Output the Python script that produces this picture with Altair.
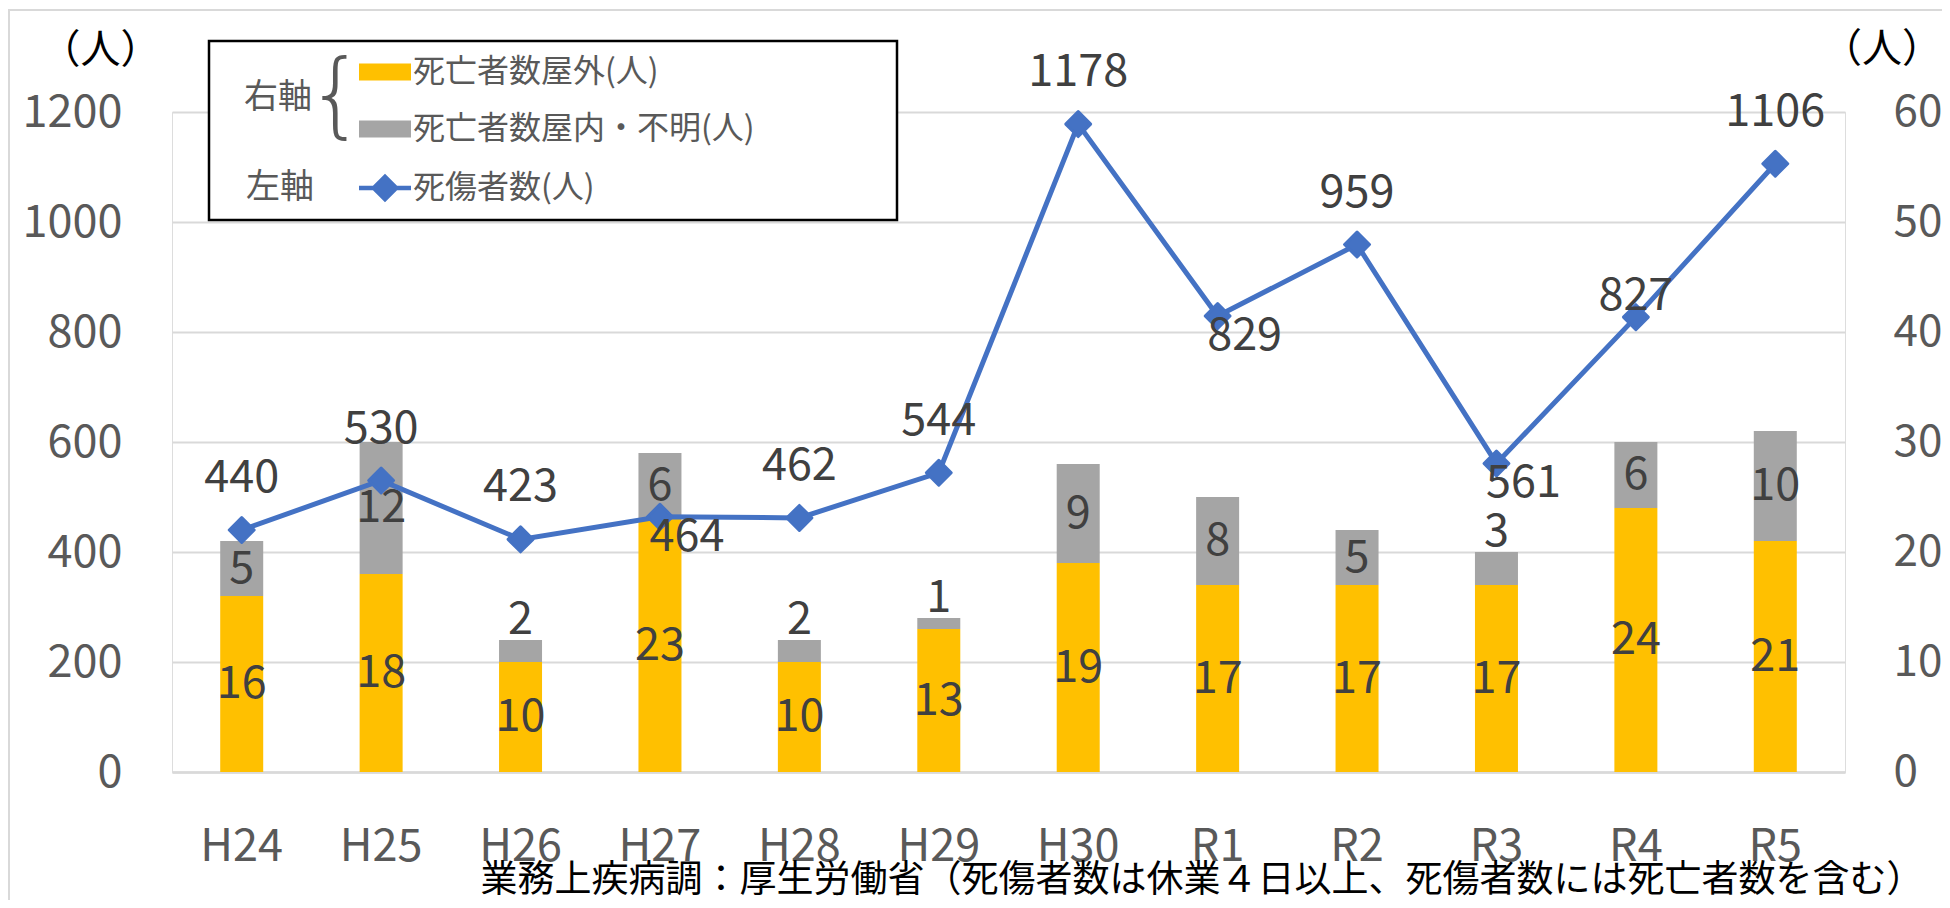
import altair as alt
import pandas as pd

# ---- data ----
years = ["H24", "H25", "H26", "H27", "H28", "H29", "H30", "R1", "R2", "R3", "R4", "R5"]
deaths_outdoor = [16, 18, 10, 23, 10, 13, 19, 17, 17, 17, 24, 21]
deaths_indoor = [5, 12, 2, 6, 2, 1, 9, 8, 5, 3, 6, 10]
casualties = [440, 530, 423, 464, 462, 544, 1178, 829, 959, 561, 827, 1106]

S_OUT = "死亡者数屋外(人)"
S_IN = "死亡者数屋内・不明(人)"
S_LINE = "死傷者数(人)"
unit = "（人）"
footer = "業務上疾病調：厚生労働省（死傷者数は休業４日以上、死傷者数には死亡者数を含む）"

# label placement groups (style)
below_right = ["H27", "R1", "R3"]
near_above = ["R4"]

# ---- style ----
FONT = "Noto Sans CJK JP"
ORANGE, GRAY, BLUE = "#FFC000", "#A5A5A5", "#4472C4"
AXIS_C, LABEL_C, GRID_C = "#595959", "#404040", "#D9D9D9"
W, H = 1673, 660

rows = []
for y, o, i in zip(years, deaths_outdoor, deaths_indoor):
    rows.append(dict(year=y, series=S_OUT, value=o, lo=0, hi=o, mid=o / 2, small=False))
    rows.append(dict(year=y, series=S_IN, value=i, lo=o, hi=o + i, mid=o + i / 2, small=i <= 3))
bar_df = pd.DataFrame(rows)
line_df = pd.DataFrame(dict(year=years, value=casualties))
line_df["series"] = S_LINE
line_df["grp"] = ["br" if y in below_right else ("na" if y in near_above else "ab") for y in years]

x_enc = alt.X(
    "year:N", sort=years,
    scale=alt.Scale(paddingInner=0, paddingOuter=0),
    axis=alt.Axis(
        labelFontSize=45, labelColor=AXIS_C, labelFont=FONT, labelPadding=52,
        labelAngle=0, ticks=False, domainColor=GRID_C, domainWidth=2.5,
        title=footer, titleFont=FONT, titleFontSize=37, titleFontWeight="normal",
        titleColor="#000000", titleX=1751, titleY=108, titleAlign="right",
        titleBaseline="middle", titleAnchor="end",
    ),
)

right_axis = alt.Axis(
    orient="right", values=[0, 10, 20, 30, 40, 50, 60], grid=False, domain=False,
    ticks=False, labelFontSize=44, labelColor=AXIS_C, labelFont=FONT, labelPadding=48,
    labelAlign="left", title=None,
)
left_axis = alt.Axis(
    orient="left", values=[0, 200, 400, 600, 800, 1000, 1200], format="d", grid=True,
    gridColor=GRID_C, gridWidth=2, domain=False, ticks=False, labelFontSize=45,
    labelColor=AXIS_C, labelFont=FONT, labelPadding=50, labelAlign="right",
    title=unit, titleAngle=0, titleX=-72, titleY=-62, titleFont=FONT,
    titleFontSize=40, titleFontWeight="normal", titleColor="#000000",
    titleAlign="center", titleBaseline="middle",
)

rect_path = "M-1,-0.33H1V0.33H-1Z"
line_path = "M-1,-0.09H1V0.09H-1ZM0,-0.55L0.55,0L0,0.55L-0.55,0Z"
leg_common = dict(
    orient="none", legendX=187, title=None, direction="vertical",
    symbolSize=2704, labelFontSize=32, labelColor=AXIS_C, labelFont=FONT,
    labelOffset=2, labelLimit=700, padding=0,
)
bar_legend = alt.Legend(legendY=-66, symbolType=rect_path, symbolStrokeWidth=0,
                        rowPadding=15, **leg_common)
line_legend = alt.Legend(legendY=50, symbolStrokeWidth=0, symbolOpacity=1, **leg_common)

y_right = alt.Scale(domain=[0, 60])
y_left = alt.Scale(domain=[0, 1200])

bars = alt.Chart(bar_df).mark_bar(size=43).encode(
    x=x_enc,
    y=alt.Y("lo:Q", scale=y_right, axis=right_axis),
    y2="hi:Q",
    color=alt.Color("series:N", scale=alt.Scale(domain=[S_OUT, S_IN], range=[ORANGE, GRAY]),
                    legend=bar_legend),
)
txt = dict(font=FONT, fontSize=45, color=LABEL_C, baseline="middle", align="center")
bar_lab_mid = alt.Chart(bar_df).transform_filter("!datum.small").mark_text(**txt).encode(
    x=alt.X("year:N", sort=years), y=alt.Y("mid:Q", scale=y_right), text="value:Q")
bar_lab_top = alt.Chart(bar_df).transform_filter("datum.small").mark_text(dy=-20, **txt).encode(
    x=alt.X("year:N", sort=years), y=alt.Y("hi:Q", scale=y_right), text="value:Q")
right_layer = alt.layer(bars, bar_lab_mid, bar_lab_top)

base_line = alt.Chart(line_df).encode(
    x=alt.X("year:N", sort=years), y=alt.Y("value:Q", scale=y_left, axis=left_axis))
line = base_line.mark_line(color=BLUE, strokeWidth=5)
ghost = base_line.mark_point(filled=True, color=BLUE, size=0).encode(
    shape=alt.Shape("series:N", scale=alt.Scale(domain=[S_LINE], range=[line_path]),
                    legend=line_legend))
pts = base_line.mark_point(shape="diamond", filled=True, size=620, color=BLUE, opacity=1,
                           strokeJoin="round", stroke=BLUE, strokeWidth=3)
lab_ab = base_line.transform_filter("datum.grp == 'ab'").mark_text(dy=-52, **txt).encode(text="value:Q")
lab_br = base_line.transform_filter("datum.grp == 'br'").mark_text(dx=27, dy=20, **txt).encode(text="value:Q")
lab_na = base_line.transform_filter("datum.grp == 'na'").mark_text(dy=-21, **txt).encode(text="value:Q")
left_layer = alt.layer(line, ghost, pts, lab_ab, lab_br, lab_na)

one = pd.DataFrame({"k": [0]})
outer = alt.Chart(one).mark_rect(fill=None, stroke=GRID_C, strokeWidth=2).encode(
    x=alt.value(-163), x2=alt.value(1900), y=alt.value(-102), y2=alt.value(900))
box = alt.Chart(one).mark_rect(fill="white", stroke="black", strokeWidth=2.5).encode(
    x=alt.value(37), x2=alt.value(725), y=alt.value(-71), y2=alt.value(108))
deco_txt = dict(font=FONT, fontSize=34, color=AXIS_C, baseline="middle", align="center")
t_right = alt.Chart(one).mark_text(**deco_txt).encode(
    x=alt.value(106), y=alt.value(-14), text=alt.value("右軸"))
t_left = alt.Chart(one).mark_text(**deco_txt).encode(
    x=alt.value(108), y=alt.value(76), text=alt.value("左軸"))
brace = alt.Chart(one).mark_text(font="DejaVu Sans", fontSize=92, color=AXIS_C,
                                 baseline="middle", align="center", fontWeight=200).encode(
    x=alt.value(164), y=alt.value(-14), text=alt.value("{"))
r_unit = alt.Chart(one).mark_text(font=FONT, fontSize=40, color="#000000",
                                  baseline="middle", align="right").encode(
    x=alt.value(W + 97), y=alt.value(-62), text=alt.value(unit))

chart = alt.layer(outer, right_layer, left_layer, box, t_right, t_left, brace, r_unit).resolve_scale(
    y="independent"
).properties(
    width=W, height=H, autosize=alt.AutoSizeParams(type="none"),
    padding={"left": 164, "top": 104, "right": 97, "bottom": 128},
).configure_view(stroke=None).configure(background="white")

chart.save("out.html", embed_options={"renderer": "svg", "actions": False})
